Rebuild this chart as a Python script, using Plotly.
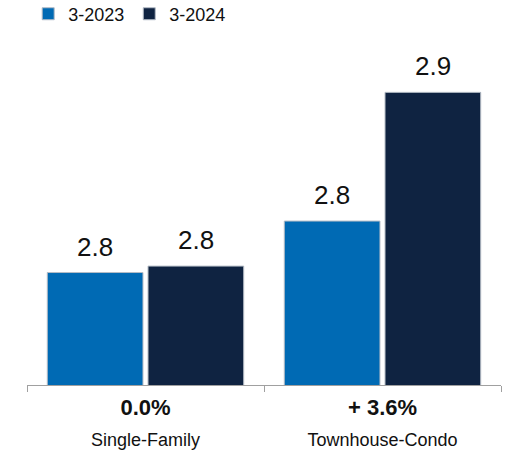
import plotly.graph_objects as go

categories = ["Single-Family", "Townhouse-Condo"]
change_labels = ["0.0%", "+ 3.6%"]
series_names = ["3-2023", "3-2024"]
values_2023 = [2.76, 2.80]
values_2024 = [2.765, 2.90]
labels_2023 = ["2.8", "2.8"]
labels_2024 = ["2.8", "2.9"]
colors = ["#006AB4", "#0F2341"]

FONT = "Liberation Sans, Arial, sans-serif"
BARGAP = 0.15
GROUPGAP = 0.05

ticktext = [
    f"<b><span style='font-size:22px'>{c}</span></b><br><span style='font-size:18px'>{n}</span>"
    for c, n in zip(change_labels, categories)
]

fig = go.Figure()
for name, vals, col in zip(series_names, [values_2023, values_2024], colors):
    fig.add_trace(go.Bar(
        x=categories, y=vals, name=name,
        marker=dict(color=col, line=dict(color="#B4BCC6", width=1)),
    ))

# value labels above bars
slot = (1 - BARGAP) / 2
for i, (vals, labs) in enumerate([(values_2023, labels_2023), (values_2024, labels_2024)]):
    for j, (v, t) in enumerate(zip(vals, labs)):
        fig.add_annotation(
            x=j + (i - 0.5) * slot, y=v, text=t, showarrow=False,
            yanchor="bottom", yshift=9,
            font=dict(family=FONT, size=26, color="#111111"),
        )

fig.update_layout(
    width=508, height=453,
    margin=dict(l=27, r=7, t=40, b=68, autoexpand=False),
    paper_bgcolor="white", plot_bgcolor="white",
    barmode="group", bargap=BARGAP, bargroupgap=GROUPGAP,
    font=dict(family=FONT, color="#111111"),
    showlegend=True,
    legend=dict(
        orientation="h", x=0.0555, xref="container", y=0.969, yref="container",
        yanchor="middle", xanchor="left",
        font=dict(family=FONT, size=18, color="#111111"),
        itemwidth=30, tracegroupgap=0,
    ),
    xaxis=dict(
        type="category", tickvals=categories, ticktext=ticktext,
        tickfont=dict(family=FONT, size=24, color="#111111"),
        showline=True, linecolor="#A0A0A0", linewidth=1,
        ticks="outside", tickson="boundaries", ticklen=6, tickcolor="#A0A0A0",
        showgrid=False, zeroline=False, automargin=False,
    ),
    yaxis=dict(
        range=[2.6726, 2.9407], visible=False, showgrid=False, zeroline=False,
        automargin=False,
    ),
)

fig.write_html("out.html")
